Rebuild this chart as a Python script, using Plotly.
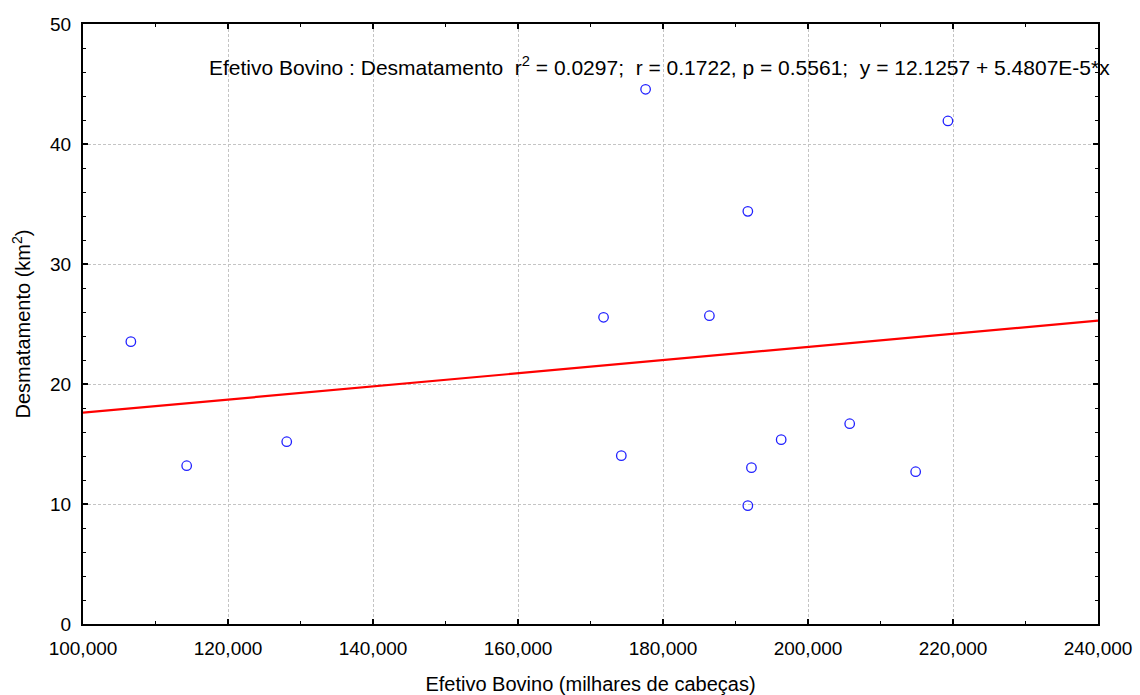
import plotly.graph_objects as go

# Cattle herd (thousands of head) vs. deforestation (km²)
efetivo_bovino = [106600, 114300, 128100, 171800, 174250, 177600, 186400,
                  191700, 191700, 192200, 196300, 205750, 214850, 219300]
desmatamento = [23.53, 13.19, 15.19, 25.56, 14.03, 44.56, 25.69,
                34.39, 9.86, 13.03, 15.36, 16.69, 12.69, 41.92]

# Fitted regression: y = a + b*x
intercepto = 12.1257
inclinacao = 5.4807e-5
x_range = [100000, 240000]

x_ticks = [100000, 120000, 140000, 160000, 180000, 200000, 220000, 240000]
x_tick_labels = ["100,000", "120,000", "140,000", "160,000",
                 "180,000", "200,000", "220,000", "240,000"]
y_ticks = [0, 10, 20, 30, 40, 50]

font_family = "Liberation Sans, Arial, sans-serif"

plot_left, plot_right, plot_top, plot_bottom = 83, 1098, 24, 624

fig = go.Figure()

fig.add_trace(go.Scatter(
    x=x_range,
    y=[intercepto + inclinacao * v for v in x_range],
    mode="lines",
    line=dict(color="#ff0000", width=2.2),
    hoverinfo="skip",
    showlegend=False,
))

fig.add_trace(go.Scatter(
    x=efetivo_bovino,
    y=desmatamento,
    mode="markers",
    marker=dict(symbol="circle-open", size=9.5, color="#2020ff",
                line=dict(width=1.3, color="#2020ff")),
    showlegend=False,
))

axis_common = dict(
    showline=True,
    linecolor="black",
    linewidth=2,
    mirror="ticks",
    ticks="inside",
    ticklen=5,
    tickwidth=1.5,
    tickcolor="black",
    showgrid=True,
    gridcolor="#c4c4c4",
    gridwidth=1,
    griddash="3px,2px",
    zeroline=False,
    automargin=False,
    tickfont=dict(family=font_family, size=19, color="black"),
    ticklabelstandoff=6,
)

fig.update_xaxes(
    range=x_range,
    tickmode="array",
    tickvals=x_ticks,
    ticktext=x_tick_labels,
    minor=dict(dtick=10000, ticks="inside", ticklen=3, tickcolor="black",
               tickwidth=1.2, showgrid=False),
    title=dict(text="Efetivo Bovino (milhares de cabeças)",
               font=dict(family=font_family, size=20, color="black"),
               standoff=24),
    **axis_common,
)

fig.update_yaxes(
    range=[0, 50],
    tickmode="array",
    tickvals=y_ticks,
    minor=dict(dtick=2, ticks="inside", ticklen=3, tickcolor="black",
               tickwidth=1.2, showgrid=False),
    title=dict(text="Desmatamento (km<sup>2</sup>)",
               font=dict(family=font_family, size=20, color="black"),
               standoff=14),
    **axis_common,
)

# regression summary, positioned in paper coordinates from pixel locations
fig.add_annotation(
    x=(659 - plot_left) / (plot_right - plot_left),
    y=(plot_bottom - 66) / (plot_bottom - plot_top),
    xref="paper", yref="paper",
    text=("Efetivo Bovino : Desmatamento  r<sup>2</sup> = 0.0297;  "
          "r = 0.1722, p = 0.5561;  y = 12.1257 + 5.4807E-5*x"),
    showarrow=False,
    font=dict(family=font_family, size=21, color="black"),
    xanchor="center", yanchor="middle",
)

fig.update_layout(
    width=1140,
    height=695,
    margin=dict(l=plot_left, r=1140 - plot_right, t=plot_top, b=695 - plot_bottom),
    paper_bgcolor="white",
    plot_bgcolor="white",
    font=dict(family=font_family, color="black"),
)

fig.write_html("out.html")
